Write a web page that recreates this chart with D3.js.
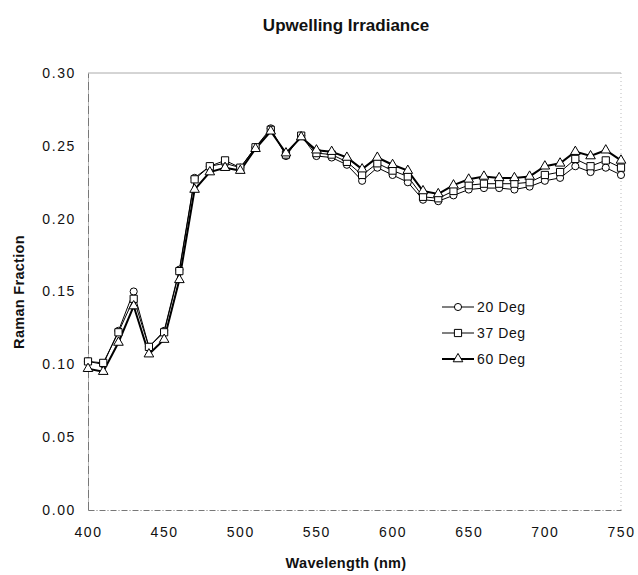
<!DOCTYPE html>
<html>
<head>
<meta charset="utf-8">
<script src="https://cdn.jsdelivr.net/npm/d3@7"></script>
<style>
  body { margin: 0; background: #fff; }
  text { font-family: "Liberation Sans", Arial, sans-serif; fill: #111; }
</style>
</head>
<body>
<svg id="chart" width="638" height="575"></svg>
<script>
// -- data -- //
const wavelengths = [400, 410, 420, 430, 440, 450, 460, 470, 480, 490, 500, 510, 520, 530, 540, 550, 560, 570,
  580, 590, 600, 610, 620, 630, 640, 650, 660, 670, 680, 690, 700, 710, 720, 730, 740, 750];
const deg20 = [0.102, 0.100, 0.123, 0.150, 0.112, 0.123, 0.165, 0.228, 0.236, 0.238, 0.235, 0.249, 0.262, 0.243,
  0.257, 0.243, 0.242, 0.237, 0.226, 0.235, 0.230, 0.225, 0.213, 0.212, 0.216, 0.220, 0.221, 0.221, 0.220, 0.222,
  0.226, 0.228, 0.236, 0.232, 0.235, 0.230];
const deg37 = [0.102, 0.101, 0.122, 0.145, 0.112, 0.122, 0.164, 0.227, 0.236, 0.240, 0.235, 0.249, 0.261, 0.244,
  0.257, 0.245, 0.244, 0.239, 0.230, 0.238, 0.233, 0.229, 0.215, 0.214, 0.219, 0.223, 0.224, 0.224, 0.224, 0.225,
  0.230, 0.232, 0.241, 0.236, 0.240, 0.235];
const deg60 = [0.097, 0.095, 0.115, 0.140, 0.107, 0.117, 0.158, 0.220, 0.232, 0.235, 0.233, 0.248, 0.260, 0.245,
  0.256, 0.247, 0.246, 0.242, 0.234, 0.242, 0.237, 0.233, 0.219, 0.217, 0.223, 0.227, 0.229, 0.228, 0.228, 0.229,
  0.236, 0.238, 0.246, 0.243, 0.247, 0.240];
const seriesNames = ["20 Deg", "37 Deg", "60 Deg"];
const xTicks = [400, 450, 500, 550, 600, 650, 700, 750];
const yTicks = [0, 0.05, 0.10, 0.15, 0.20, 0.25, 0.30];

const svg = d3.select("#chart");
const plotLeft = 88, plotRight = 621, plotTop = 73, plotBottom = 510;

const xScale = d3.scaleLinear().domain([400, 750]).range([plotLeft, plotRight]);
const yScale = d3.scaleLinear().domain([0, 0.30]).range([plotBottom, plotTop]);

// -- plot frame -- //
svg.append("line").attr("x1", plotLeft).attr("x2", plotRight).attr("y1", plotTop).attr("y2", plotTop)
  .style("stroke", "#aaa").style("stroke-width", 1);
svg.append("line").attr("x1", plotRight).attr("x2", plotRight).attr("y1", plotTop).attr("y2", plotBottom)
  .style("stroke", "#bbb").style("stroke-dasharray", "1,3");

// -- axes -- //
let xAxis = d3.axisBottom(xScale).tickValues(xTicks).tickSize(0).tickPadding(17).tickFormat(d3.format("d"));
let yAxis = d3.axisLeft(yScale).tickValues(yTicks).tickSize(0).tickPadding(12).tickFormat(d3.format(".2f"));

let gx = svg.append("g").attr("transform", `translate(0, ${plotBottom})`).call(xAxis);
gx.select(".domain").style("stroke", "#777").style("stroke-dasharray", "6,2,1,2");
gx.selectAll("text").style("font-size", "14px").style("letter-spacing", "1.6px")
  .attr("fill", "#111");

let gy = svg.append("g").attr("transform", `translate(${plotLeft}, 0)`).call(yAxis);
gy.select(".domain").style("stroke", "#777").style("stroke-dasharray", "9,1,1,1");
gy.selectAll("text").style("font-size", "14px").style("letter-spacing", "1.6px")
  .attr("fill", "#111");

// -- titles -- //
svg.append("text").attr("x", 346).attr("y", 31).attr("text-anchor", "middle")
  .style("font-size", "17px").style("font-weight", "bold").text("Upwelling Irradiance");
svg.append("text").attr("x", 346).attr("y", 568).attr("text-anchor", "middle")
  .style("font-size", "14.5px").style("font-weight", "bold").style("letter-spacing", "0.3px")
  .text("Wavelength (nm)");
svg.append("text").attr("transform", "translate(24, 292) rotate(-90)").attr("text-anchor", "middle")
  .style("font-size", "14.5px").style("font-weight", "bold").style("letter-spacing", "0.3px")
  .text("Raman Fraction");

// -- series -- //
const series = [
  { name: seriesNames[0], values: deg20, symbol: d3.symbolCircle, size: 40, width: 1 },
  { name: seriesNames[1], values: deg37, symbol: d3.symbolSquare, size: 52, width: 1 },
  { name: seriesNames[2], values: deg60, symbol: d3.symbolTriangle, size: 40, width: 2 }
];

let line = d3.line().x((d, i) => xScale(wavelengths[i])).y(d => yScale(d));

series.forEach(s => {
  svg.append("path").datum(s.values).attr("d", line)
    .style("fill", "none").style("stroke", "#000").style("stroke-width", s.width);
});
series.forEach(s => {
  svg.selectAll(null).data(s.values).enter().append("path")
    .attr("transform", (d, i) => `translate(${xScale(wavelengths[i])}, ${yScale(d)})`)
    .attr("d", d3.symbol().type(s.symbol).size(s.size))
    .style("fill", "#fff").style("stroke", "#000").style("stroke-width", 1);
});

// -- legend -- //
let legend = svg.append("g").attr("transform", "translate(442, 307)");
series.forEach((s, i) => {
  let g = legend.append("g").attr("transform", `translate(0, ${i * 26})`);
  g.append("line").attr("x1", 0).attr("x2", 32).attr("y1", 0).attr("y2", 0)
    .style("stroke", "#000").style("stroke-width", s.width);
  g.append("path").attr("transform", "translate(16, 0)")
    .attr("d", d3.symbol().type(s.symbol).size(s.size))
    .style("fill", "#fff").style("stroke", "#000");
  g.append("text").attr("x", 35).attr("y", 5).style("font-size", "14px")
    .style("letter-spacing", "0.6px").text(s.name);
});
</script>
</body>
</html>
